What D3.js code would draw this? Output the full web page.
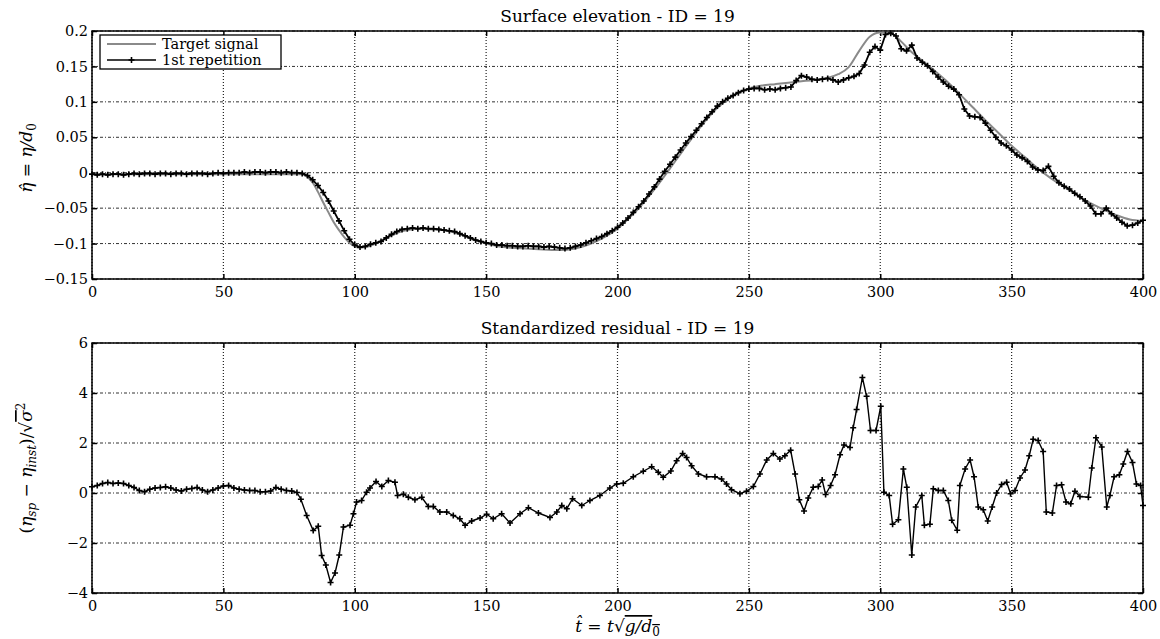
<!DOCTYPE html>
<html>
<head>
<meta charset="utf-8">
<script src="https://cdn.jsdelivr.net/npm/d3@7"></script>
<style>
  body { margin: 0; background: #fff; }
  text { font-family: "DejaVu Serif", "Liberation Serif", serif; fill: #000; }
</style>
</head>
<body>
<div id="chart"></div>
<script>
var svgWidth = 1160;
var svgHeight = 639;

// tick labels
var xTicks = [0, 50, 100, 150, 200, 250, 300, 350, 400];
var topYTicks = [-0.15, -0.1, -0.05, 0, 0.05, 0.1, 0.15, 0.2];
var botYTicks = [-4, -2, 0, 2, 4, 6];

// target signal (grey)
var targetT = [0, 20, 40, 60, 80, 82, 84, 86, 88, 90, 92, 94, 96, 98, 100, 102, 104, 108, 112, 116, 120, 125, 130, 135, 140, 145, 150, 155, 160, 165, 170, 175, 180, 185, 190, 195, 200, 205, 210, 215, 220, 225, 230, 235, 240, 245, 250, 255, 260, 265, 270, 275, 280, 284, 288, 292, 296, 300, 304, 308, 312, 316, 320, 325, 330, 335, 340, 345, 350, 355, 360, 365, 370, 375, 380, 385, 390, 395, 400];
var targetV = [-0.002, -0.002, -0.002, -0.002, -0.002, -0.006, -0.014, -0.027, -0.042, -0.056, -0.070, -0.081, -0.091, -0.099, -0.104, -0.106, -0.105, -0.100, -0.092, -0.085, -0.081, -0.079, -0.080, -0.082, -0.087, -0.094, -0.100, -0.104, -0.106, -0.107, -0.108, -0.109, -0.109, -0.106, -0.100, -0.091, -0.079, -0.062, -0.042, -0.019, 0.006, 0.032, 0.057, 0.080, 0.098, 0.111, 0.119, 0.123, 0.125, 0.127, 0.129, 0.131, 0.134, 0.139, 0.149, 0.172, 0.192, 0.198, 0.197, 0.185, 0.170, 0.158, 0.146, 0.130, 0.112, 0.093, 0.074, 0.056, 0.038, 0.022, 0.006, -0.008, -0.020, -0.032, -0.043, -0.052, -0.060, -0.066, -0.068];

// 1st repetition (black with markers), one value every 2 time units
var repT = d3.range(0, 401, 2);
var repV = [
  -0.002, -0.003, -0.002, -0.003, -0.002, -0.002, -0.003, -0.002, -0.001, -0.002,
  -0.001, -0.001, -0.002, -0.001, -0.001, -0.002, -0.001, -0.001, -0.002, -0.001,
  -0.001, -0.001, -0.002, -0.001, 0.000, -0.001, 0.000, 0.000, 0.000, 0.001,
  0.000, 0.001, 0.001, 0.000, 0.001, 0.001, 0.000, 0.001, 0.000, 0.000,
  -0.001, -0.004, -0.010, -0.018, -0.028, -0.040, -0.054, -0.068, -0.082, -0.094,
  -0.102, -0.105, -0.104, -0.101, -0.099, -0.097, -0.092, -0.087, -0.083, -0.080,
  -0.079, -0.078, -0.079, -0.078, -0.079, -0.079, -0.080, -0.081, -0.082, -0.083,
  -0.086, -0.089, -0.092, -0.095, -0.097, -0.099, -0.100, -0.102, -0.102, -0.103,
  -0.103, -0.104, -0.104, -0.103, -0.104, -0.104, -0.105, -0.104, -0.105, -0.106,
  -0.107, -0.106, -0.104, -0.102, -0.099, -0.096, -0.093, -0.090, -0.086, -0.082,
  -0.077, -0.071, -0.064, -0.056, -0.048, -0.040, -0.030, -0.020, -0.009, 0.002,
  0.012, 0.022, 0.032, 0.042, 0.051, 0.060, 0.069, 0.078, 0.086, 0.094,
  0.100, 0.105, 0.109, 0.113, 0.116, 0.118, 0.119, 0.119, 0.117, 0.118,
  0.117, 0.119, 0.120, 0.121, 0.130, 0.137, 0.135, 0.132, 0.131, 0.132,
  0.133, 0.131, 0.128, 0.131, 0.134, 0.136, 0.140, 0.152, 0.170, 0.178,
  0.173, 0.195, 0.197, 0.193, 0.175, 0.172, 0.180, 0.162, 0.156, 0.151,
  0.143, 0.135, 0.128, 0.122, 0.118, 0.110, 0.090, 0.080, 0.079, 0.078,
  0.070, 0.060, 0.050, 0.042, 0.038, 0.032, 0.025, 0.021, 0.016, 0.008,
  0.004, 0.003, 0.009, -0.005, -0.014, -0.019, -0.023, -0.029, -0.034, -0.040,
  -0.047, -0.058, -0.058, -0.050, -0.058, -0.064, -0.070, -0.075, -0.074, -0.071,
  -0.067
];

// standardized residual
var residT = [0, 2, 4, 6, 8, 10, 12, 14, 16, 18, 20, 22, 24, 26, 28, 30, 32, 34, 36, 38, 40, 42, 44, 46, 48, 50, 52, 54, 56, 58, 60, 62, 64, 66, 68, 70, 72, 74, 76, 78,
  79.5, 81.7, 84.2, 86.1, 87.4, 89, 90.8, 92.5, 94.1, 95.7, 98.2, 99.5, 100.7, 102.6, 104.5, 105.8, 108.1, 110.3, 112.8, 115.3, 116.3, 118.5, 120.4, 122.9, 125.5, 128, 129.9, 132.4, 135, 137.5, 140, 142, 144.5, 147.7, 150.2, 152.7, 155.9, 159.1, 162.9, 166.1, 169.9, 174.3, 176.9, 178.8, 180.7, 182.9, 186.4, 189.5, 193.3, 197.1, 199.7, 202.2, 206, 209.8, 213, 215.5, 217.4, 220.3, 222.5, 224.8, 226.3, 228.2, 230.8, 233.9, 237.1, 239.6, 241.5, 243.4, 246.6, 249.1, 251.7, 254.2, 256.8, 259.3, 261.8, 263.7, 265.9, 267.6, 269.2, 271, 272.6, 274.5, 276.4, 277.9, 279.2, 281.1, 282.8, 284.7, 286.2, 288.5, 289.7, 291, 293.2, 294.8, 296.3, 298.4, 300.2, 301.4, 303.4, 304.7, 306.9, 308.8, 310.1, 312, 313.5, 315.8, 316.8, 318.9, 320.2, 322.1, 324, 325.9, 327.2, 329.3, 330.3, 332.3, 334.2, 335.7, 337.3, 339.2, 340.9, 342.6, 344.3, 346.2, 348.1, 349.6, 351.3, 353.2, 355.1, 356.7, 358.2, 360.1, 362, 363.2, 365.5, 367.1, 369, 370.7, 372.5, 374.1, 376, 379.2, 380.5, 382.1, 384.3, 386.2, 387.4, 389, 391, 392.5, 394.1, 396, 397.5, 399.1, 400];
var residV = [0.25, 0.3, 0.38, 0.42, 0.38, 0.4, 0.38, 0.3, 0.22, 0.1, 0.05, 0.15, 0.2, 0.22, 0.25, 0.2, 0.12, 0.08, 0.15, 0.18, 0.22, 0.12, 0.05, 0.12, 0.2, 0.28, 0.3, 0.2, 0.15, 0.12, 0.1, 0.1, 0.05, 0.05, 0.08, 0.22, 0.15, 0.1, 0.08, 0.02,
  -0.25, -0.9, -1.5, -1.33, -2.5, -2.88, -3.58, -3.2, -2.48, -1.36, -1.29, -0.83, -0.36, -0.3, 0.03, 0.2, 0.46, 0.26, 0.5, 0.43, -0.1, -0.05, -0.17, -0.27, -0.17, -0.54, -0.54, -0.76, -0.76, -0.9, -1.03, -1.29, -1.12, -1.0, -0.85, -1.03, -0.83, -1.2, -0.83, -0.59, -0.8, -0.98, -0.76, -0.5, -0.63, -0.23, -0.5, -0.3, -0.1, 0.2, 0.36, 0.39, 0.65, 0.87, 1.05, 0.83, 0.63, 0.88, 1.29, 1.58, 1.42, 1.09, 0.76, 0.65, 0.65, 0.56, 0.36, 0.13, -0.03, 0.07, 0.26, 0.76, 1.32, 1.58, 1.36, 1.49, 1.71, 0.76, -0.27, -0.72, -0.2, 0.23, 0.26, 0.52, -0.06, 0.3, 0.73, 1.53, 1.92, 1.82, 2.61, 3.34, 4.62, 3.87, 2.5, 2.5, 3.47, 0.03, -0.1, -1.25, -1.07, 0.96, 0.23, -2.48, -0.56, -0.1, -1.29, -1.25, 0.17, 0.1, 0.1, -0.3, -1.09, -1.49, 0.3, 0.96, 1.32, 0.65, -0.56, -0.67, -1.12, -0.56, 0, 0.34, 0.43, -0.03, 0.1, 0.6, 0.92, 1.49, 2.15, 2.1, 1.66, -0.76, -0.8, 0.3, 0.33, -0.36, -0.43, 0.07, -0.14, -0.17, 1.0, 2.21, 1.84, -0.56, -0.1, 0.65, 0.73, 1.16, 1.66, 1.22, 0.36, 0.3, -0.5];

var margin = { left: 92, right: 17 };
var width = svgWidth - margin.left - margin.right;

var svg = d3.select("#chart")
  .append("svg")
  .attr("width", svgWidth)
  .attr("height", svgHeight);

var xScale = d3.scaleLinear().domain([0, 400]).range([0, width]);
var fmt = function(d) { return d === 0 ? "0" : d3.format("~g")(d); };
var plusPath = "M-3,0H3M0,-3V3";

// one framed panel with grid, inside ticks on all four sides
function drawPanel(top, height, yDomain, yTicks, title) {
  var g = svg.append("g").attr("transform", `translate(${margin.left}, ${top})`);
  var yScale = d3.scaleLinear().domain(yDomain).range([height, 0]);

  // grid
  g.append("g").selectAll("line")
    .data(yTicks)
    .enter().append("line")
    .attr("x1", 0).attr("x2", width)
    .attr("y1", d => yScale(d)).attr("y2", d => yScale(d))
    .attr("stroke", "#333").attr("stroke-width", 1)
    .attr("stroke-dasharray", "3,2,1,2");
  g.append("g").selectAll("line")
    .data(xTicks)
    .enter().append("line")
    .attr("x1", d => xScale(d)).attr("x2", d => xScale(d))
    .attr("y1", 0).attr("y2", height)
    .attr("stroke", "#222").attr("stroke-width", 1.2)
    .attr("stroke-dasharray", "1,2");

  var bottomAxis = d3.axisBottom(xScale).tickValues(xTicks).tickSize(-5).tickPadding(8).tickFormat(fmt);
  var topAxis = d3.axisTop(xScale).tickValues(xTicks).tickSize(-5).tickFormat("");
  var leftAxis = d3.axisLeft(yScale).tickValues(yTicks).tickSize(-5).tickPadding(4).tickFormat(fmt);
  var rightAxis = d3.axisRight(yScale).tickValues(yTicks).tickSize(-5).tickFormat("");

  g.append("g").attr("transform", `translate(0, ${height})`).call(bottomAxis);
  g.append("g").call(topAxis);
  g.append("g").call(leftAxis);
  g.append("g").attr("transform", `translate(${width}, 0)`).call(rightAxis);
  g.selectAll(".domain").remove();
  g.selectAll(".tick line").attr("stroke", "#000").attr("stroke-width", 1.5);
  g.selectAll(".tick text")
    .style("font-family", "'DejaVu Serif', serif")
    .style("font-size", "14.5px");

  g.append("rect")
    .attr("width", width).attr("height", height)
    .attr("fill", "none").attr("stroke", "#000").attr("stroke-width", 1.5);

  svg.append("text")
    .attr("x", margin.left + width / 2)
    .attr("y", top - 9)
    .attr("text-anchor", "middle")
    .style("font-size", "17px")
    .text(title);

  return { g: g, y: yScale };
}

// ---- top panel: surface elevation ----
var topPanel = drawPanel(31, 248, [-0.15, 0.2], topYTicks, "Surface elevation - ID = 19");

var lineTarget = d3.line()
  .x(d => xScale(d[0]))
  .y(d => topPanel.y(d[1]))
  .curve(d3.curveMonotoneX);
topPanel.g.append("path")
  .datum(d3.zip(targetT, targetV))
  .attr("fill", "none").attr("stroke", "#8a8a8a").attr("stroke-width", 2)
  .attr("d", lineTarget);

var lineRep = d3.line().x(d => xScale(d[0])).y(d => topPanel.y(d[1]));
topPanel.g.append("path")
  .datum(d3.zip(repT, repV))
  .attr("fill", "none").attr("stroke", "#000").attr("stroke-width", 1.8)
  .attr("d", lineRep);
topPanel.g.append("g").selectAll("path")
  .data(d3.zip(repT, repV))
  .enter().append("path")
  .attr("transform", d => `translate(${xScale(d[0])}, ${topPanel.y(d[1])})`)
  .attr("d", plusPath)
  .attr("stroke", "#000").attr("stroke-width", 1.6);

// legend
var legend = svg.append("g").attr("transform", "translate(100, 35)");
legend.append("rect")
  .attr("width", 181).attr("height", 34)
  .attr("fill", "#fff").attr("stroke", "#000").attr("stroke-width", 1.3);
legend.append("line")
  .attr("x1", 7).attr("x2", 56).attr("y1", 9).attr("y2", 9)
  .attr("stroke", "#8a8a8a").attr("stroke-width", 2);
legend.append("text").attr("x", 62).attr("y", 14).style("font-size", "14.5px").text("Target signal");
legend.append("line")
  .attr("x1", 7).attr("x2", 56).attr("y1", 25).attr("y2", 25)
  .attr("stroke", "#000").attr("stroke-width", 1.6);
legend.append("path")
  .attr("transform", "translate(31.5, 25)")
  .attr("d", plusPath)
  .attr("stroke", "#000").attr("stroke-width", 1.6);
legend.append("text").attr("x", 62).attr("y", 30).style("font-size", "14.5px").text("1st repetition");

// y label, top
var yLab1 = svg.append("text")
  .attr("transform", "translate(32, 158) rotate(-90)")
  .attr("text-anchor", "middle")
  .style("font-size", "17px");
yLab1.append("tspan").style("font-style", "italic").text("η\u0302");
yLab1.append("tspan").text(" = ");
yLab1.append("tspan").style("font-style", "italic").text("η/d");
yLab1.append("tspan").attr("dy", 4).style("font-size", "12px").text("0");

// ---- bottom panel: standardized residual ----
var botPanel = drawPanel(343, 250, [-4, 6], botYTicks, "Standardized residual - ID = 19");

var lineRes = d3.line().x(d => xScale(d[0])).y(d => botPanel.y(d[1]));
botPanel.g.append("path")
  .datum(d3.zip(residT, residV))
  .attr("fill", "none").attr("stroke", "#000").attr("stroke-width", 1.4)
  .attr("d", lineRes);
botPanel.g.append("g").selectAll("path")
  .data(d3.zip(residT, residV))
  .enter().append("path")
  .attr("transform", d => `translate(${xScale(d[0])}, ${botPanel.y(d[1])})`)
  .attr("d", plusPath)
  .attr("stroke", "#000").attr("stroke-width", 1.6);

// y label, bottom
var yLab2 = svg.append("text")
  .attr("transform", "translate(32, 468) rotate(-90)")
  .attr("text-anchor", "middle")
  .style("font-size", "17px");
yLab2.append("tspan").text("(");
yLab2.append("tspan").style("font-style", "italic").text("η");
yLab2.append("tspan").attr("dy", 4).style("font-size", "12px").style("font-style", "italic").text("sp");
yLab2.append("tspan").attr("dy", -4).text(" − ");
yLab2.append("tspan").style("font-style", "italic").text("η");
yLab2.append("tspan").attr("dy", 4).style("font-size", "12px").style("font-style", "italic").text("inst");
yLab2.append("tspan").attr("dy", -4).text(")/√");
yLab2.append("tspan").style("font-style", "italic").style("text-decoration", "overline").text("σ");
yLab2.append("tspan").attr("dy", -7).style("font-size", "12px").text("2");

// x label
var xLab = svg.append("text")
  .attr("x", margin.left + width / 2)
  .attr("y", 632)
  .attr("text-anchor", "middle")
  .style("font-size", "17px");
xLab.append("tspan").style("font-style", "italic").text("t\u0302");
xLab.append("tspan").text(" = ");
xLab.append("tspan").style("font-style", "italic").text("t");
xLab.append("tspan").text("√");
xLab.append("tspan").style("font-style", "italic").style("text-decoration", "overline").text("g/d");
xLab.append("tspan").attr("dy", 4).style("font-size", "12px").style("text-decoration", "overline").text("0");
</script>
</body>
</html>
